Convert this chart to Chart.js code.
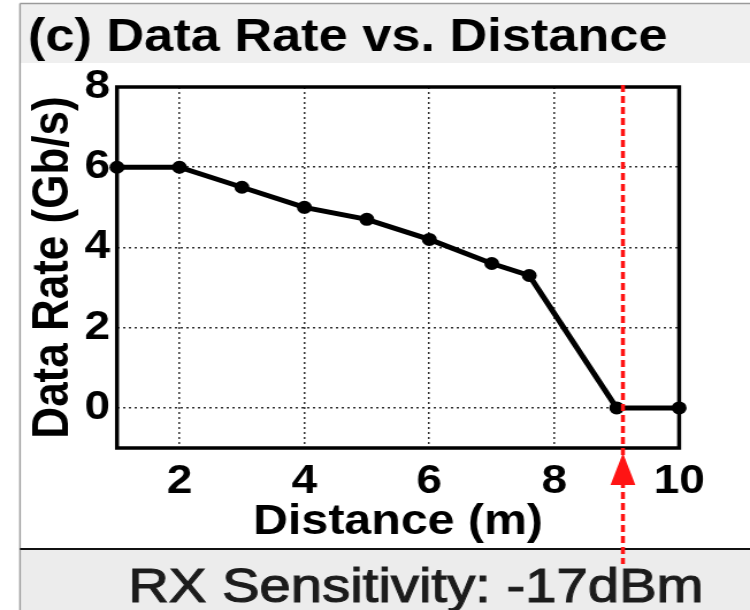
<!DOCTYPE html>
<html>
<head>
<meta charset="utf-8">
<script src="https://cdn.jsdelivr.net/npm/chart.js@4.4.1/dist/chart.umd.min.js"></script>
<style>
  html, body { margin: 0; padding: 0; background: #fff; overflow: hidden; }
  /* the figure is laid out on a narrower canvas and widened horizontally */
  #wrap { position: absolute; left: 0; top: 0; width: 652px; height: 610px;
          transform: scaleX(1.1503); transform-origin: 0 0; }
</style>
</head>
<body>
<div id="wrap"><canvas id="c"></canvas></div>
<script>
// Measured data rate against link distance
const distances = [1, 2, 3, 4, 5, 6, 7, 7.6, 9, 10];
const dataRates = [6, 6, 5.5, 5.0, 4.7, 4.2, 3.6, 3.3, 0, 0];
const xTicks = [2, 4, 6, 8, 10];
const yTicks = [0, 2, 4, 6, 8];
const sensitivityDistance = 9.1;   // distance at which RX sensitivity is reached
const chartTitle = '(c) Data Rate vs. Distance';
const footerText = 'RX Sensitivity: -17dBm';
const xTitle = 'Distance (m)';
const yTitle = 'Data Rate (Gb/s)';

const FONT = "'Liberation Sans', Arial, Helvetica, sans-serif";
Chart.defaults.font.family = FONT;

const points = distances.map((d, i) => ({ x: d, y: dataRates[i] }));

const framePlugin = {
  id: 'frame',
  beforeDraw(chart) {
    const ctx = chart.ctx;
    const W = chart.width, H = chart.height;
    ctx.save();
    ctx.fillStyle = '#ffffff';
    ctx.fillRect(0, 0, W, H);
    // title band
    ctx.fillStyle = '#efefef';
    ctx.fillRect(17.4, 4, W - 17.4, 59);
    // footer band
    ctx.fillStyle = '#ececec';
    ctx.fillRect(17.4, 549, W - 17.4, H - 549);
    // outer panel lines
    ctx.strokeStyle = '#9a9a9a';
    ctx.lineWidth = 1.4;
    ctx.beginPath();
    ctx.moveTo(17.4, 3.5); ctx.lineTo(W, 3.5);
    ctx.moveTo(17.4, 3.5); ctx.lineTo(17.4, H);
    ctx.stroke();
    ctx.strokeStyle = '#111';
    ctx.lineWidth = 2;
    ctx.beginPath();
    ctx.moveTo(17.4, 549); ctx.lineTo(W, 549);
    ctx.stroke();
    ctx.restore();
  },
  beforeDatasetsDraw(chart) {
    const { ctx, chartArea: a } = chart;
    ctx.save();
    ctx.strokeStyle = '#000';
    ctx.lineWidth = 3.5;
    ctx.strokeRect(a.left, a.top, a.right - a.left, a.bottom - a.top);
    ctx.restore();
  },
  afterDatasetsDraw(chart) {
    const ctx = chart.ctx;
    const xr = chart.scales.x.getPixelForValue(sensitivityDistance);
    ctx.save();
    ctx.strokeStyle = '#ff1414';
    ctx.lineWidth = 3.5;
    ctx.setLineDash([7, 4]);
    ctx.beginPath();
    ctx.moveTo(xr, 85);
    ctx.lineTo(xr, 564);
    ctx.stroke();
    ctx.setLineDash([]);
    ctx.fillStyle = '#ff1414';
    ctx.beginPath();
    ctx.moveTo(xr, 453);
    ctx.lineTo(xr - 10.8, 485);
    ctx.lineTo(xr + 10.8, 485);
    ctx.closePath();
    ctx.fill();
    ctx.restore();
  },
  afterDraw(chart) {
    const ctx = chart.ctx;
    ctx.save();
    ctx.fillStyle = '#000';
    ctx.textBaseline = 'alphabetic';
    ctx.textAlign = 'left';
    ctx.font = 'bold 46px ' + FONT;
    ctx.fillText(chartTitle, 24.3, 51, 556);
    ctx.fillStyle = '#1c1c1c';
    ctx.strokeStyle = '#1c1c1c';
    ctx.lineWidth = 1.1;
    ctx.textAlign = 'center';
    ctx.font = '49px ' + FONT;
    ctx.fillText(footerText, 361.5, 602, 500);
    ctx.strokeText(footerText, 361.5, 602, 500);
    ctx.restore();
  }
};

new Chart(document.getElementById('c'), {
  type: 'line',
  data: {
    datasets: [{
      data: points,
      borderColor: '#000',
      borderWidth: 5,
      pointRadius: 6.5,
      pointHoverRadius: 6.5,
      pointBackgroundColor: '#000',
      pointBorderWidth: 0,
      tension: 0,
      clip: false
    }]
  },
  options: {
    responsive: true,
    maintainAspectRatio: false,
    animation: false,
    events: [],
    layout: { padding: { left: 0, right: 61.6, top: 87, bottom: 61 } },
    plugins: { legend: { display: false }, tooltip: { enabled: false } },
    scales: {
      x: {
        type: 'linear',
        min: 1,
        max: 10,
        afterBuildTicks: s => { s.ticks = xTicks.map(v => ({ value: v })); },
        afterFit: s => { s.height = 101; },
        grid: { color: '#333', lineWidth: 1.5, drawTicks: false },
        border: { display: false, dash: [2, 3] },
        ticks: {
          color: '#000', padding: 10, maxRotation: 0, autoSkip: false,
          font: { size: 40, weight: 'bold' }
        },
        title: {
          display: true, text: xTitle, color: '#000',
          font: { size: 42, weight: 'bold' }, padding: { top: 0, bottom: 1 }
        }
      },
      y: {
        type: 'linear',
        min: -1,
        max: 8,
        afterBuildTicks: s => { s.ticks = yTicks.map(v => ({ value: v })); },
        afterFit: s => { s.width = 101.7; },
        grid: { color: '#333', lineWidth: 1.5, drawTicks: false },
        border: { display: false, dash: [2, 3] },
        ticks: {
          color: '#000', padding: 6, autoSkip: false,
          font: { size: 40, weight: 'bold' }
        },
        title: {
          display: true, text: yTitle, color: '#000',
          font: { size: 44, weight: 'bold' }, padding: { top: 20, bottom: 0 }
        }
      }
    }
  },
  plugins: [framePlugin]
});
</script>
</body>
</html>
